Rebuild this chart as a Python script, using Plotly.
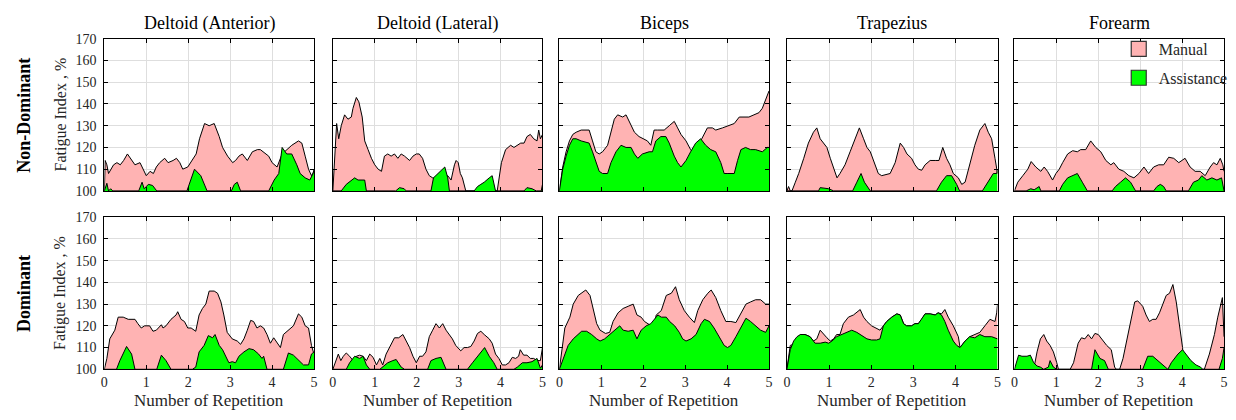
import plotly.graph_objects as go

# ---------------- data (x = repetition, y = fatigue index %) ----------------
MUSCLES = ["Deltoid (Anterior)", "Deltoid (Lateral)", "Biceps", "Trapezius", "Forearm"]
ROWS = ["Non-Dominant", "Dominant"]
X_TICKS = [0, 1, 2, 3, 4, 5]
Y_TICKS = [100, 110, 120, 130, 140, 150, 160, 170]

# Non-dominant, Manual
ND_DELT_ANT_MAN = [[0, 100], [0.02, 114], [0.06, 112], [0.1, 108], [0.22, 112], [0.3, 113], [0.38, 112], [0.46, 114], [0.55, 117], [0.65, 114], [0.73, 112], [0.85, 113], [0.93, 110], [1.0, 107], [1.09, 109], [1.17, 108], [1.24, 111], [1.32, 113], [1.44, 115], [1.52, 113], [1.64, 114], [1.72, 115], [1.8, 113], [1.87, 110], [1.99, 111], [2.11, 115], [2.19, 117], [2.27, 124], [2.39, 131], [2.5, 130], [2.62, 131], [2.74, 125], [2.82, 120], [2.94, 116], [3.06, 113], [3.13, 114], [3.21, 116], [3.29, 117], [3.41, 114], [3.53, 118], [3.65, 119], [3.72, 119], [3.84, 117], [3.92, 116], [4.0, 113], [4.12, 111], [4.24, 117], [4.35, 119], [4.47, 121], [4.63, 123], [4.71, 122], [4.79, 116], [4.87, 110], [4.94, 107], [5.0, 109]]
ND_DELT_LAT_MAN = [[0, 100], [0.05, 120], [0.09, 131], [0.14, 124], [0.2, 130], [0.28, 135], [0.36, 133], [0.44, 134], [0.48, 138], [0.56, 143], [0.62, 141], [0.7, 134], [0.76, 123], [0.84, 119], [0.92, 115], [1.0, 112], [1.08, 110], [1.16, 109], [1.23, 116], [1.31, 117], [1.39, 116], [1.47, 117], [1.55, 115], [1.63, 117], [1.71, 116], [1.83, 114], [1.91, 116], [1.99, 117], [2.06, 117], [2.14, 115], [2.22, 110], [2.3, 107], [2.38, 106], [2.5, 106], [2.62, 107], [2.74, 107], [2.82, 105], [2.9, 112], [2.94, 114], [2.99, 113], [3.04, 108], [3.09, 106], [3.13, 103], [3.17, 100], [3.92, 100], [3.96, 105], [4.02, 113], [4.12, 119], [4.24, 121], [4.32, 120], [4.4, 121], [4.48, 122], [4.56, 122], [4.63, 125], [4.71, 126], [4.79, 124], [4.87, 123], [4.91, 128], [4.95, 124], [5.0, 126]]
ND_BICEPS_MAN = [[0, 100], [0.08, 111], [0.16, 118], [0.24, 123], [0.32, 126], [0.4, 127], [0.52, 128], [0.63, 128], [0.71, 128], [0.79, 123], [0.87, 118], [0.95, 117], [1.03, 118], [1.15, 121], [1.23, 127], [1.31, 133], [1.39, 135], [1.51, 134], [1.59, 135], [1.71, 130], [1.79, 127], [1.9, 125], [2.1, 123], [2.18, 121], [2.26, 128], [2.34, 128], [2.5, 128], [2.62, 130], [2.74, 132], [2.82, 129], [2.9, 126], [3.02, 123], [3.13, 119], [3.21, 117], [3.29, 120], [3.41, 125], [3.53, 129], [3.65, 129], [3.73, 128], [3.89, 129], [4.05, 130], [4.17, 131], [4.29, 134], [4.4, 134], [4.52, 134], [4.64, 135], [4.76, 136], [4.84, 138], [4.92, 142], [5.0, 146]]
ND_TRAP_MAN = [[0, 100], [0.04, 102], [0.08, 100], [0.12, 100], [0.2, 104], [0.28, 108], [0.4, 115], [0.51, 122], [0.63, 127], [0.71, 129], [0.79, 124], [0.87, 122], [0.95, 120], [1.03, 115], [1.11, 110], [1.19, 106], [1.26, 108], [1.38, 112], [1.5, 118], [1.62, 124], [1.72, 129], [1.82, 124], [1.9, 120], [1.98, 118], [2.09, 112], [2.17, 108], [2.25, 107], [2.33, 107.5], [2.45, 108], [2.57, 113], [2.69, 122], [2.77, 120], [2.85, 117], [2.96, 115], [3.04, 112], [3.12, 110], [3.2, 109.5], [3.28, 112], [3.4, 114], [3.52, 114], [3.61, 114], [3.7, 120], [3.79, 115], [3.87, 112], [3.95, 108], [4.07, 106], [4.15, 103], [4.23, 104], [4.34, 112], [4.46, 121], [4.58, 128], [4.7, 131], [4.78, 127], [4.86, 124], [4.94, 115], [4.98, 110], [5.0, 108]]
ND_FORE_MAN = [[0, 100], [0.08, 104], [0.2, 107], [0.32, 110], [0.4, 113.5], [0.51, 111], [0.63, 109], [0.71, 111], [0.79, 109], [0.91, 105], [0.99, 108], [1.07, 110], [1.15, 113], [1.27, 117], [1.39, 118.5], [1.5, 118], [1.58, 119], [1.7, 119], [1.82, 123], [1.94, 120], [2.06, 118], [2.18, 114], [2.3, 112], [2.37, 113], [2.49, 110], [2.61, 109], [2.73, 107], [2.85, 106], [2.97, 108], [3.09, 111], [3.2, 108], [3.32, 111], [3.44, 112], [3.56, 112], [3.68, 115.5], [3.8, 115], [3.92, 113], [4.07, 115], [4.19, 111], [4.31, 109], [4.43, 109], [4.55, 107], [4.67, 111], [4.75, 113], [4.83, 112], [4.91, 115], [4.97, 112], [5.0, 109]]

# Non-dominant, Assistance
ND_DELT_ANT_ASS = [[0, 100], [0.03, 102], [0.06, 103.5], [0.1, 100], [0.15, 101], [0.2, 100], [0.82, 100], [0.9, 104], [0.95, 101], [1.0, 102], [1.05, 103], [1.15, 102.5], [1.25, 100], [1.97, 100], [2.1, 108], [2.15, 110], [2.3, 107], [2.45, 100], [3.03, 100], [3.1, 103], [3.17, 104], [3.25, 100], [3.92, 100], [4.05, 105], [4.16, 108], [4.24, 120], [4.35, 117], [4.47, 117], [4.59, 112], [4.67, 108], [4.79, 106], [4.9, 105], [4.98, 108], [5.0, 110]]
ND_DELT_LAT_ASS = [[0, 100], [0.2, 100], [0.32, 103], [0.44, 105], [0.52, 106], [0.6, 105], [0.76, 105], [0.8, 100], [1.5, 100], [1.59, 101.5], [1.7, 101], [1.75, 100], [2.34, 100], [2.4, 106], [2.5, 108], [2.62, 110], [2.67, 111], [2.74, 106], [2.78, 100], [3.37, 100], [3.45, 102], [3.53, 103], [3.61, 104], [3.73, 106], [3.8, 107], [3.88, 100], [4.56, 100], [4.63, 101.5], [4.75, 101], [4.85, 100], [4.97, 100], [5.0, 103]]
ND_BICEPS_ASS = [[0, 100], [0.08, 110], [0.16, 116], [0.24, 121], [0.32, 124], [0.4, 124], [0.52, 123], [0.71, 122], [0.79, 118], [0.87, 113], [0.95, 109], [1.03, 108], [1.15, 108], [1.23, 113], [1.35, 118], [1.47, 121], [1.59, 120], [1.71, 120], [1.79, 117], [1.87, 115], [1.98, 117], [2.14, 118], [2.22, 118], [2.3, 123], [2.42, 125], [2.54, 125], [2.62, 122], [2.74, 116], [2.82, 113], [2.9, 111], [3.02, 114], [3.13, 118], [3.25, 122], [3.37, 124], [3.49, 121], [3.61, 119], [3.73, 118], [3.85, 113], [3.93, 108], [4.0, 108], [4.17, 108], [4.25, 114], [4.33, 119], [4.44, 120], [4.56, 119], [4.68, 119], [4.84, 118], [4.96, 120], [5.0, 120]]
ND_TRAP_ASS = [[0, 100], [0.75, 100], [0.79, 101.5], [0.91, 101], [0.99, 101], [1.11, 100], [1.56, 100], [1.66, 104], [1.76, 108], [1.84, 104], [1.94, 101], [1.98, 100], [3.55, 100], [3.67, 104], [3.79, 107], [3.91, 107], [4.03, 103], [4.1, 100], [4.64, 100], [4.78, 104], [4.9, 108], [4.98, 108], [5.0, 110]]
ND_FORE_ASS = [[0, 100], [0.28, 100], [0.39, 101], [0.47, 100.5], [0.59, 102], [0.63, 100], [1.07, 100], [1.15, 103], [1.27, 106], [1.39, 107], [1.5, 108], [1.62, 104], [1.74, 100], [2.33, 100], [2.41, 102], [2.53, 104], [2.65, 106], [2.77, 104], [2.89, 100], [3.32, 100], [3.4, 102], [3.48, 103], [3.56, 102], [3.62, 100], [4.15, 100], [4.27, 104], [4.39, 105], [4.47, 107], [4.59, 105], [4.71, 106], [4.83, 105], [4.94, 106], [5.0, 100]]

# Dominant, Manual
D_DELT_ANT_MAN = [[0, 100], [0.06, 105], [0.13, 114], [0.25, 118], [0.33, 124], [0.45, 124], [0.57, 123], [0.73, 123], [0.8, 121], [0.88, 119], [0.96, 120], [1.08, 120], [1.16, 117.5], [1.24, 118], [1.36, 120.5], [1.4, 119], [1.47, 120], [1.59, 123], [1.71, 125], [1.75, 126.5], [1.83, 123], [1.91, 122], [1.99, 119], [2.07, 119], [2.18, 117.5], [2.26, 125], [2.34, 128], [2.42, 130], [2.5, 136], [2.62, 136], [2.7, 135], [2.78, 131], [2.85, 125], [2.93, 117], [3.05, 114], [3.17, 113], [3.25, 111.5], [3.33, 114], [3.41, 118], [3.49, 122.5], [3.56, 122], [3.64, 119], [3.72, 120], [3.8, 119], [3.88, 116], [3.96, 112], [4.04, 114.5], [4.12, 112], [4.2, 110], [4.27, 116], [4.39, 118], [4.51, 120], [4.63, 125.5], [4.71, 124], [4.79, 120], [4.87, 119], [4.94, 111], [5.0, 107]]
D_DELT_LAT_MAN = [[0, 100], [0.05, 103], [0.13, 107], [0.19, 104], [0.25, 106], [0.32, 107.5], [0.4, 106], [0.48, 104], [0.56, 106], [0.64, 106.5], [0.72, 106], [0.8, 104], [0.88, 107], [0.96, 105.5], [1.04, 102], [1.12, 105], [1.19, 102], [1.27, 107], [1.35, 110], [1.47, 114.5], [1.57, 114.5], [1.67, 116], [1.75, 113], [1.83, 110], [1.91, 106], [1.99, 103], [2.07, 106], [2.14, 106], [2.22, 108], [2.3, 115], [2.38, 118], [2.46, 121], [2.54, 119], [2.62, 121], [2.7, 118], [2.78, 116], [2.85, 114], [2.93, 111], [3.05, 108.5], [3.13, 110], [3.21, 110], [3.29, 110.5], [3.37, 113], [3.45, 116.5], [3.53, 117.5], [3.61, 116], [3.73, 114], [3.8, 112], [3.88, 107], [3.96, 105], [4.04, 102], [4.12, 102], [4.2, 103], [4.28, 105.5], [4.36, 105], [4.43, 106], [4.47, 109], [4.55, 106.5], [4.63, 106.5], [4.71, 105], [4.79, 105], [4.87, 104], [4.95, 104], [5.0, 110]]
D_BICEPS_MAN = [[0, 100], [0.06, 110], [0.13, 119], [0.25, 124], [0.33, 130], [0.45, 134], [0.57, 135.5], [0.63, 136.5], [0.73, 134], [0.81, 127], [0.89, 121], [0.97, 118], [1.1, 116.5], [1.2, 117], [1.28, 122], [1.4, 126], [1.52, 128], [1.64, 129], [1.76, 130], [1.85, 125], [1.95, 124], [2.03, 122], [2.15, 120.5], [2.23, 118], [2.31, 125], [2.43, 127], [2.55, 134], [2.67, 135], [2.77, 138], [2.86, 132], [2.98, 127], [3.1, 124], [3.22, 121.5], [3.3, 127], [3.42, 132], [3.54, 135], [3.62, 136.5], [3.73, 133], [3.85, 127], [3.97, 122], [4.09, 122], [4.21, 121.5], [4.33, 126], [4.45, 130], [4.56, 131], [4.68, 132], [4.8, 132], [4.92, 130], [5.0, 130]]
D_TRAP_MAN = [[0, 100], [0.08, 111], [0.16, 111.5], [0.24, 114], [0.32, 116], [0.43, 116], [0.55, 115], [0.63, 113], [0.71, 114], [0.79, 118], [0.87, 116], [0.95, 114.5], [1.03, 113], [1.11, 114], [1.18, 116], [1.26, 116], [1.34, 121], [1.46, 124], [1.58, 125], [1.74, 127.5], [1.82, 124], [1.9, 122], [2.01, 120], [2.13, 119], [2.21, 118], [2.29, 120], [2.37, 122], [2.49, 124], [2.61, 125.5], [2.69, 125], [2.77, 121], [2.84, 120], [2.96, 120], [3.04, 121], [3.12, 121], [3.2, 123], [3.28, 125.5], [3.4, 125.5], [3.52, 125], [3.59, 126], [3.67, 125.5], [3.75, 127.5], [3.83, 124], [3.95, 120], [4.07, 115], [4.11, 110], [4.23, 113], [4.34, 115], [4.46, 116], [4.58, 117], [4.7, 120], [4.82, 123], [4.94, 122], [4.98, 126], [5.0, 130]]
D_FORE_MAN = [[0, 100], [0.46, 100], [0.54, 108], [0.62, 114], [0.7, 116], [0.77, 113], [0.85, 111], [0.93, 108], [1.01, 103], [1.05, 100], [1.33, 100], [1.41, 103], [1.52, 112], [1.6, 114.5], [1.68, 114], [1.76, 116], [1.84, 114], [1.92, 116.5], [2.0, 116], [2.12, 113], [2.2, 111], [2.31, 109], [2.39, 101], [2.43, 100], [2.51, 100], [2.59, 105], [2.71, 116], [2.79, 125], [2.87, 131], [2.94, 131.5], [3.06, 129], [3.14, 125], [3.22, 122], [3.3, 123], [3.38, 123], [3.46, 126], [3.54, 130], [3.62, 134], [3.7, 135], [3.78, 139], [3.86, 131], [3.93, 122], [4.01, 110], [4.05, 100], [4.53, 100], [4.65, 107], [4.77, 116], [4.85, 124], [4.93, 131], [4.96, 133], [5.0, 115]]

# Dominant, Assistance
D_DELT_ANT_ASS = [[0, 100], [0.29, 100], [0.37, 104], [0.45, 107], [0.53, 110.5], [0.65, 107], [0.73, 100], [1.25, 100], [1.36, 106.5], [1.47, 104], [1.59, 100], [2.1, 100], [2.18, 101], [2.26, 108], [2.38, 111], [2.48, 115.5], [2.58, 114.5], [2.64, 116], [2.74, 111], [2.82, 109], [2.89, 106], [2.97, 103], [3.05, 103.5], [3.13, 103], [3.21, 106], [3.33, 108], [3.45, 109.5], [3.56, 109], [3.68, 107], [3.76, 105], [3.8, 106], [3.88, 100], [4.27, 100], [4.39, 107.5], [4.51, 106.5], [4.63, 104], [4.75, 102], [4.87, 102], [4.94, 107], [5.0, 108]]
D_DELT_LAT_ASS = [[0, 100], [0.32, 100], [0.4, 103], [0.52, 106], [0.64, 105], [0.72, 106], [0.8, 102], [0.88, 100], [1.12, 100], [1.19, 101], [1.31, 103], [1.43, 104], [1.51, 104.5], [1.63, 101], [1.71, 100], [2.26, 100], [2.34, 104], [2.46, 105], [2.58, 105.5], [2.7, 100], [3.21, 100], [3.33, 103], [3.45, 106], [3.56, 109], [3.62, 110], [3.73, 106], [3.84, 103], [3.92, 100], [4.32, 100], [4.4, 101], [4.52, 103], [4.63, 103], [4.75, 103.5], [4.87, 105], [4.95, 100.5], [5.0, 102]]
D_BICEPS_ASS = [[0, 100], [0.09, 105], [0.21, 111], [0.33, 114], [0.45, 116], [0.53, 117.5], [0.65, 117.5], [0.77, 116], [0.89, 114], [0.97, 113], [1.08, 114], [1.2, 116], [1.32, 118], [1.44, 120], [1.52, 118], [1.64, 117.5], [1.76, 118], [1.85, 114], [1.95, 118], [2.07, 120], [2.18, 121], [2.27, 123], [2.35, 125], [2.43, 124], [2.55, 124], [2.63, 122], [2.75, 120], [2.86, 117], [2.94, 114], [3.02, 113], [3.14, 114], [3.26, 116], [3.38, 121], [3.46, 123], [3.58, 122], [3.69, 119], [3.81, 115], [3.93, 111], [4.01, 110], [4.09, 111], [4.21, 115], [4.33, 119], [4.45, 123.5], [4.56, 122], [4.68, 120], [4.8, 118], [4.92, 117], [5.0, 120]]
D_TRAP_ASS = [[0, 100], [0.08, 109], [0.16, 113], [0.24, 115], [0.32, 116], [0.43, 116], [0.55, 115], [0.67, 112], [0.79, 112], [0.91, 112.5], [0.99, 112], [1.07, 113], [1.18, 115], [1.3, 116], [1.46, 117], [1.54, 118], [1.66, 117], [1.78, 115.5], [1.9, 114], [2.01, 113.5], [2.13, 113.5], [2.21, 114], [2.29, 120], [2.37, 122], [2.49, 124], [2.61, 125.5], [2.69, 125], [2.77, 121], [2.84, 120], [2.96, 120], [3.04, 121], [3.12, 121], [3.2, 123], [3.28, 125.5], [3.4, 125.5], [3.52, 125], [3.59, 126], [3.67, 125], [3.75, 122], [3.83, 118], [3.95, 113], [4.03, 111], [4.11, 110], [4.23, 113], [4.34, 115], [4.46, 114.5], [4.58, 116], [4.7, 115], [4.86, 115], [4.98, 114], [5.0, 114]]
D_FORE_ASS = [[0, 100], [0.1, 106.5], [0.18, 106], [0.3, 106], [0.38, 106.5], [0.46, 103], [0.54, 101.5], [0.62, 101], [0.7, 100], [0.81, 101], [0.85, 104], [0.93, 101], [1.01, 100], [1.84, 100], [1.92, 109], [2.04, 105], [2.15, 104], [2.24, 100], [3.06, 100], [3.18, 106], [3.3, 106], [3.42, 104], [3.54, 102], [3.66, 100], [3.74, 103], [3.82, 105], [3.9, 107], [4.01, 109], [4.09, 107], [4.21, 104], [4.33, 102], [4.44, 101], [4.49, 100], [4.88, 100], [4.96, 105], [5.0, 110]]

MANUAL = [[ND_DELT_ANT_MAN, ND_DELT_LAT_MAN, ND_BICEPS_MAN, ND_TRAP_MAN, ND_FORE_MAN],
          [D_DELT_ANT_MAN, D_DELT_LAT_MAN, D_BICEPS_MAN, D_TRAP_MAN, D_FORE_MAN]]
ASSIST = [[ND_DELT_ANT_ASS, ND_DELT_LAT_ASS, ND_BICEPS_ASS, ND_TRAP_ASS, ND_FORE_ASS],
          [D_DELT_ANT_ASS, D_DELT_LAT_ASS, D_BICEPS_ASS, D_TRAP_ASS, D_FORE_ASS]]
SERIES = [("Manual", "#FFB3B3", MANUAL), ("Assistance", "#00FF00", ASSIST)]

# ---------------- layout geometry ----------------
W, H = 1236, 420
COL_PX = [(101, 312), (331, 542), (559, 770), (788, 1000), (1017, 1228)]
ROW_PX = [(33, 190.7), (218, 375.7)]
FONT = "Liberation Serif, Times New Roman, serif"
TXT = "#262626"

fig = go.Figure()
layout = dict(width=W, height=H, margin=dict(l=0, r=0, t=0, b=0),
              paper_bgcolor="white", plot_bgcolor="white",
              font=dict(family=FONT, size=14, color=TXT))

annotations = []
for r in range(2):
    for c in range(5):
        k = r * 5 + c + 1
        xa = "x" if k == 1 else f"x{k}"
        ya = "y" if k == 1 else f"y{k}"
        for name, color, table in SERIES:
            data = table[r][c]
            fig.add_trace(go.Scatter(
                x=[p[0] for p in data], y=[p[1] for p in data],
                mode="lines", line=dict(color="black", width=1),
                fill="tozeroy", fillcolor=color, name=name,
                showlegend=False, xaxis=xa, yaxis=ya, hoverinfo="skip"))
        x0, x1 = COL_PX[c]
        t0, t1 = ROW_PX[r]
        common = dict(ticks="inside", ticklen=4, tickcolor="black",
                      showline=True, linecolor="black", linewidth=1, mirror="ticks",
                      showgrid=True, gridcolor="#DEDEDE", gridwidth=1, zeroline=False,
                      tickfont=dict(family=FONT, size=14, color=TXT))
        layout["xaxis" if k == 1 else f"xaxis{k}"] = dict(
            domain=[x0 / W, x1 / W], anchor=ya, range=[0, 5],
            tickvals=X_TICKS, showticklabels=(r == 1), **common)
        layout["yaxis" if k == 1 else f"yaxis{k}"] = dict(
            domain=[1 - t1 / H, 1 - t0 / H], anchor=xa, range=[100, 170],
            tickvals=Y_TICKS, showticklabels=(c == 0), ticklabelstandoff=4, **common)
        if r == 0:
            annotations.append(dict(text=MUSCLES[c], x=(x0 + x1) / 2 / W, y=1 - 17 / H,
                                    xref="paper", yref="paper", showarrow=False,
                                    font=dict(family=FONT, size=18, color="black"),
                                    xanchor="center", yanchor="middle"))
        else:
            annotations.append(dict(text="Number of Repetition", x=(x0 + x1) / 2 / W, y=1 - 408 / H,
                                    xref="paper", yref="paper", showarrow=False,
                                    font=dict(family=FONT, size=17, color=TXT),
                                    xanchor="center", yanchor="middle"))

# legend entries (square swatches) shown in the top-right panel
for name, color, _ in SERIES:
    fig.add_trace(go.Scatter(x=[None], y=[None], name=name, legendgroup=name, mode="markers",
                             marker=dict(symbol="square", size=15, color=color,
                                         line=dict(color="#333333", width=1.2)),
                             xaxis="x5", yaxis="y5", showlegend=True, hoverinfo="skip"))

for r in range(2):
    t0, t1 = ROW_PX[r]
    ymid = 1 - (t0 + t1) / 2 / H
    annotations.append(dict(text="<b>" + ROWS[r] + "</b>", x=20 / W, y=ymid, xref="paper", yref="paper",
                            showarrow=False, textangle=-90,
                            font=dict(family=FONT, size=18, color="black"),
                            xanchor="center", yanchor="middle"))
    annotations.append(dict(text="Fatigue Index , %", x=57 / W, y=ymid, xref="paper", yref="paper",
                            showarrow=False, textangle=-90,
                            font=dict(family=FONT, size=16, color=TXT),
                            xanchor="center", yanchor="middle"))

layout["annotations"] = annotations
layout["legend"] = dict(x=1122 / W, y=1 - 26 / H, xanchor="left", yanchor="top",
                        bgcolor="rgba(0,0,0,0)", borderwidth=0, traceorder="grouped",
                        font=dict(family=FONT, size=16, color=TXT),
                        tracegroupgap=5, itemwidth=30)
fig.update_layout(**layout)
fig.write_html("out.html")
